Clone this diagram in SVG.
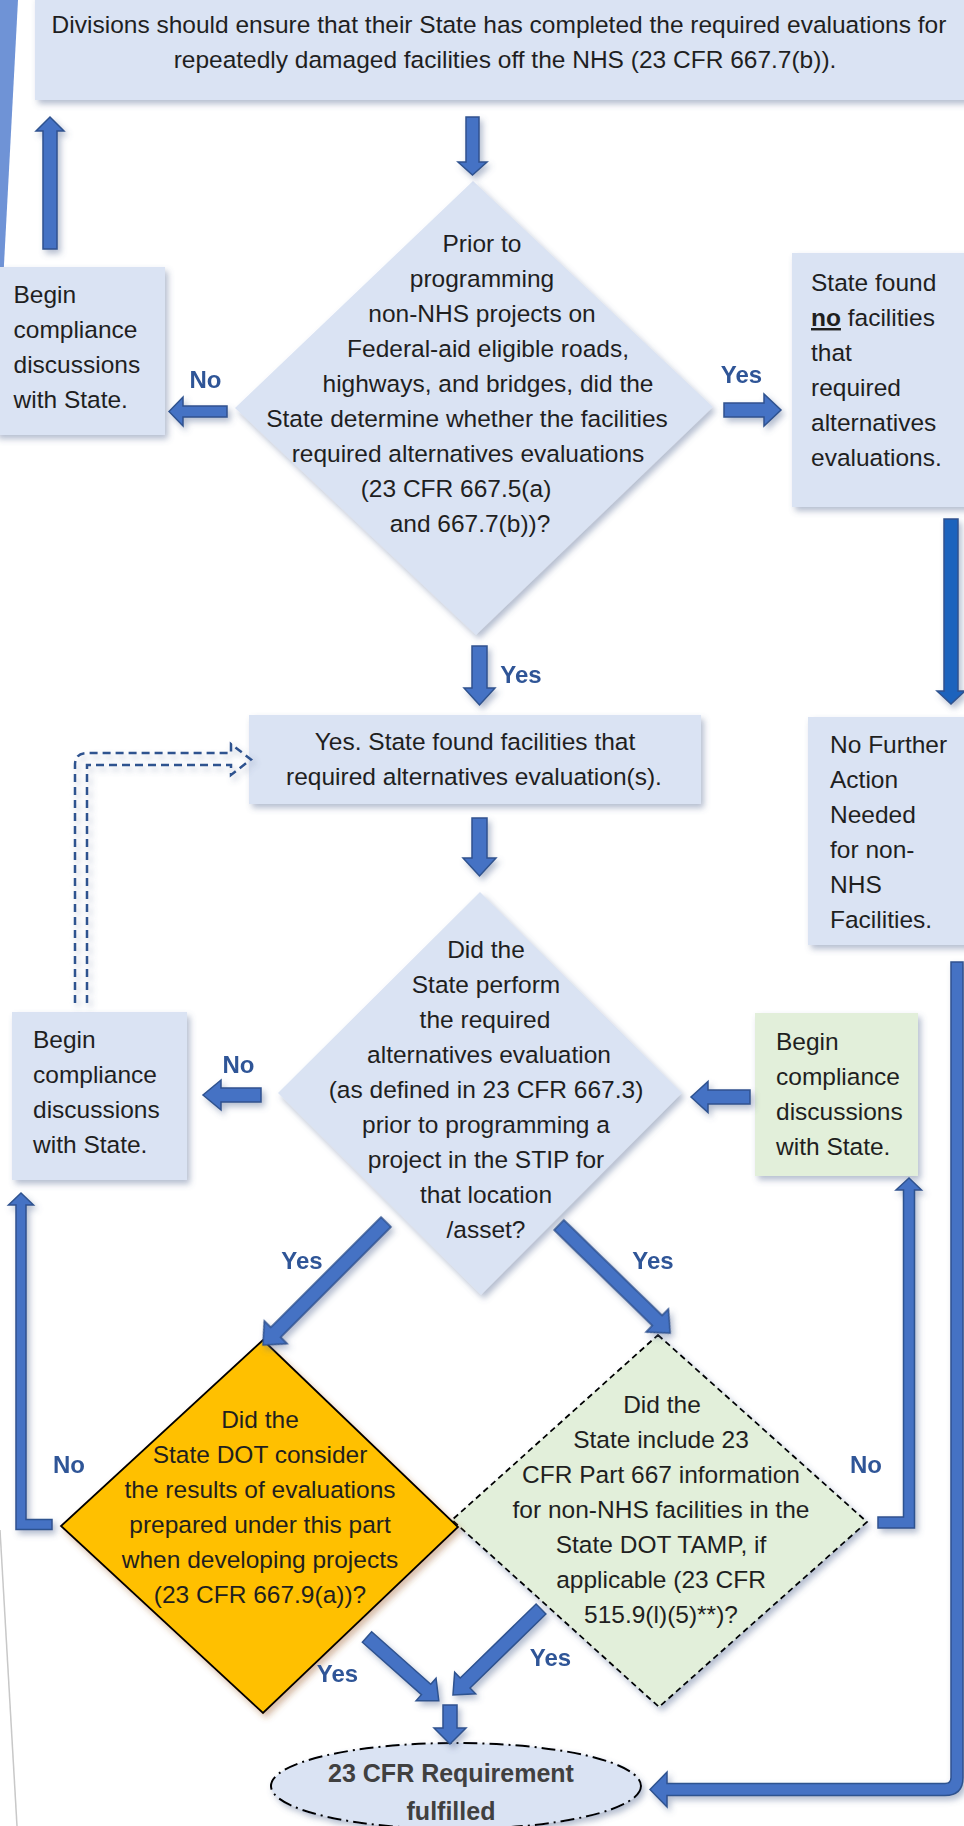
<svg xmlns="http://www.w3.org/2000/svg" width="964" height="1826" viewBox="0 0 964 1826">
<style>
.t{font-family:"Liberation Sans",Arial,sans-serif;font-size:24.5px;fill:#1f1f1f}
.c{text-anchor:middle}
.lbl{font-family:"Liberation Sans",Arial,sans-serif;font-size:24px;font-weight:bold;fill:#2F5597;text-anchor:middle}
.box{fill:#DAE3F3}
.gbox{fill:#E2EFDA}
.ba{fill:#4472C4;stroke:#2F528F;stroke-width:1.5;stroke-linejoin:miter}
.ba2{fill:#1A63BD;stroke:#2F528F;stroke-width:1.5}
</style>
<defs>
<filter id="sh" x="-10%" y="-10%" width="130%" height="130%">
<feDropShadow dx="3" dy="4" stdDeviation="3" flood-color="#5a6f96" flood-opacity="0.45"/>
</filter>
<filter id="sho" x="-10%" y="-10%" width="130%" height="130%">
<feDropShadow dx="3" dy="4" stdDeviation="3" flood-color="#9a5a20" flood-opacity="0.4"/>
</filter>
</defs>
<rect width="964" height="1826" fill="#ffffff"/>
<g id="decor">
<polygon points="0,0 18,0 0,340" fill="#6F93D6"/>
<line x1="0" y1="1530" x2="17" y2="1826" stroke="#C8C8C8" stroke-width="1.5"/>
</g>

<g id="n-top" filter="url(#sh)">
<rect class="box" x="35" y="-5" width="935" height="105"/>
</g>
<g id="n-top-text">
<text class="t c" x="499" y="33">Divisions should ensure that their State has completed the required evaluations for</text>
<text class="t c" x="505" y="68">repeatedly damaged facilities off the NHS (23 CFR 667.7(b)).</text>
</g>

<g id="n-d1">
<polygon class="box" filter="url(#sh)" points="473,181 713,407 476,635 235,408"/>
<text class="t c" x="482" y="252">Prior to</text>
<text class="t c" x="482" y="287">programming</text>
<text class="t c" x="482" y="322">non-NHS projects on</text>
<text class="t c" x="488" y="357">Federal-aid eligible roads,</text>
<text class="t c" x="488" y="392">highways, and bridges, did the</text>
<text class="t c" x="467" y="427">State determine whether the facilities</text>
<text class="t c" x="468" y="462">required alternatives evaluations</text>
<text class="t c" x="456" y="497">(23 CFR 667.5(a)</text>
<text class="t c" x="470" y="532">and 667.7(b))?</text>
</g>

<g id="n-begin1">
<rect class="box" filter="url(#sh)" x="-5" y="267" width="170" height="168"/>
<text class="t" x="13.5" y="303">Begin</text>
<text class="t" x="13.5" y="338">compliance</text>
<text class="t" x="13.5" y="373">discussions</text>
<text class="t" x="13.5" y="408">with State.</text>
</g>

<g id="n-nofac">
<rect class="box" filter="url(#sh)" x="792" y="253" width="180" height="254"/>
<text class="t" x="811" y="291">State found</text>
<text class="t" x="811" y="326"><tspan font-weight="bold" text-decoration="underline">no</tspan> facilities</text>
<text class="t" x="811" y="361">that</text>
<text class="t" x="811" y="396">required</text>
<text class="t" x="811" y="431">alternatives</text>
<text class="t" x="811" y="466">evaluations.</text>
</g>

<g id="n-yesfound">
<rect class="box" filter="url(#sh)" x="249" y="715" width="452" height="89"/>
<text class="t c" x="475" y="750">Yes. State found facilities that</text>
<text class="t c" x="474" y="785">required alternatives evaluation(s).</text>
</g>

<g id="n-nofurther">
<rect class="box" filter="url(#sh)" x="808" y="717" width="170" height="228"/>
<text class="t" x="830" y="753">No Further</text>
<text class="t" x="830" y="788">Action</text>
<text class="t" x="830" y="823">Needed</text>
<text class="t" x="830" y="858">for non-</text>
<text class="t" x="830" y="893">NHS</text>
<text class="t" x="830" y="928">Facilities.</text>
</g>

<g id="n-d2">
<polygon class="box" filter="url(#sh)" points="480,892 682,1093 481,1295 278,1093"/>
<text class="t c" x="486" y="958">Did the</text>
<text class="t c" x="486" y="993">State perform</text>
<text class="t c" x="485" y="1028">the required</text>
<text class="t c" x="489" y="1063">alternatives evaluation</text>
<text class="t c" x="486" y="1098">(as defined in 23 CFR 667.3)</text>
<text class="t c" x="486" y="1133">prior to programming a</text>
<text class="t c" x="486" y="1168">project in the STIP for</text>
<text class="t c" x="486" y="1203">that location</text>
<text class="t c" x="486" y="1238">/asset?</text>
</g>

<g id="n-begin2">
<rect class="box" filter="url(#sh)" x="12" y="1012" width="175" height="168"/>
<text class="t" x="33" y="1048">Begin</text>
<text class="t" x="33" y="1083">compliance</text>
<text class="t" x="33" y="1118">discussions</text>
<text class="t" x="33" y="1153">with State.</text>
</g>

<g id="n-begin3">
<rect class="gbox" filter="url(#sh)" x="755" y="1013" width="163" height="163"/>
<text class="t" x="776" y="1050">Begin</text>
<text class="t" x="776" y="1085">compliance</text>
<text class="t" x="776" y="1120">discussions</text>
<text class="t" x="776" y="1155">with State.</text>
</g>

<g id="n-d4">
<polygon fill="#E2EFDA" stroke="#000" stroke-width="1.8" stroke-dasharray="6 4" filter="url(#sh)" points="658,1335 867,1522 659,1707 452,1520"/>
<text class="t c" x="662" y="1413">Did the</text>
<text class="t c" x="661" y="1448">State include 23</text>
<text class="t c" x="661" y="1483">CFR Part 667 information</text>
<text class="t c" x="661" y="1518">for non-NHS facilities in the</text>
<text class="t c" x="661" y="1553">State DOT TAMP, if</text>
<text class="t c" x="661" y="1588">applicable (23 CFR</text>
<text class="t c" x="661" y="1623">515.9(l)(5)**)?</text>
</g>

<g id="n-d3">
<polygon fill="#FFC000" stroke="#000" stroke-width="1.8" filter="url(#sho)" points="263,1340 458,1527 263,1713 61,1526"/>
<text class="t c" x="260" y="1428">Did the</text>
<text class="t c" x="260" y="1463">State DOT consider</text>
<text class="t c" x="260" y="1498">the results of evaluations</text>
<text class="t c" x="260" y="1533">prepared under this part</text>
<text class="t c" x="260" y="1568">when developing projects</text>
<text class="t c" x="260" y="1603">(23 CFR 667.9(a))?</text>
</g>

<g id="n-end">
<ellipse cx="456" cy="1786" rx="185" ry="43" fill="#DAE3F3" stroke="#000" stroke-width="2" stroke-dasharray="14 5 2 5" filter="url(#sh)"/>
<text class="t c" x="451" y="1782" font-weight="bold" font-size="25px" fill="#404040" style="fill:#404040;font-size:25px">23 CFR Requirement</text>
<text class="t c" x="451" y="1820" font-weight="bold" style="fill:#404040;font-size:25px">fulfilled</text>
</g>

<g id="connectors">
<g filter="url(#sh)">
<polygon class="ba" points="43,249 43,131 36,131 50,117 64,131 57,131 57,249"/>
<polygon class="ba" points="466,117 479,117 479,162 487,162 472.5,175 458,162 466,162"/>
<polygon class="ba" points="227,406 183,406 183,397 169,411.5 183,426 183,417 227,417"/>
<polygon class="ba" points="724,403 764,403 764,394 781,410 764,426 764,417 724,417"/>
<polygon class="ba" points="472,646 487,646 487,688 495,688 479.5,705 464,688 472,688"/>
<polygon class="ba" points="472,818 487,818 487,858 496,858 479.5,876 463,858 472,858"/>
<polygon class="ba2" points="944,519 958,519 958,691 965,691 951,704 937,691 944,691"/>
<polygon class="ba" points="261,1088 221,1088 221,1080 203,1095 221,1110 221,1102 261,1102"/>
<polygon class="ba" points="750,1090 708,1090 708,1081.5 691,1097 708,1112.5 708,1104 750,1104"/>
<polygon class="ba" transform="translate(386,1222) rotate(135)" points="0,-7 156,-7 156,-16 174,0 156,16 156,7 0,7"/>
<polygon class="ba" transform="translate(559,1225) rotate(44.2)" points="0,-7 137,-7 137,-16 155,0 137,16 137,7 0,7"/>
<polygon class="ba" transform="translate(367,1637) rotate(41.6)" points="0,-7 79,-7 79,-15 96,0 79,15 79,7 0,7"/>
<polygon class="ba" transform="translate(541,1609) rotate(135.7)" points="0,-7 106,-7 106,-15 123,0 106,15 106,7 0,7"/>
<polygon class="ba" points="443,1705 457,1705 457,1728 466,1728 450,1744 434,1728 443,1728"/>
<path class="ba" d="M52,1519.5 H26 V1205 H33.5 L21,1193 L8.5,1205 H16 V1529.5 H52 Z"/>
<path class="ba" d="M878,1517 H903.5 V1190 H896 L909,1178 L921.5,1190 H914.5 V1528 H878 Z"/>
<path class="ba" d="M951,962 H963 V1777.5 Q963,1795.5 945,1795.5 H667 V1807 L650,1789.5 L667,1772 V1783.5 H945 Q951,1783.5 951,1777.5 Z"/>
</g>
<path d="M87,1003 V765 H231 V775 L251,759.5 L231,744 V753 H87 Q75,753 75,765 V1003" fill="none" stroke="#2F528F" stroke-width="2.5" stroke-dasharray="8 5" filter="url(#sh)"/>
</g>

<g id="labels">
<text class="lbl" x="205.5" y="388">No</text>
<text class="lbl" x="741.5" y="383">Yes</text>
<text class="lbl" x="521" y="683">Yes</text>
<text class="lbl" x="238.5" y="1073">No</text>
<text class="lbl" x="302" y="1269">Yes</text>
<text class="lbl" x="653" y="1269">Yes</text>
<text class="lbl" x="69" y="1473">No</text>
<text class="lbl" x="866" y="1473">No</text>
<text class="lbl" x="337.5" y="1682">Yes</text>
<text class="lbl" x="550.5" y="1666">Yes</text>
</g>
</svg>
